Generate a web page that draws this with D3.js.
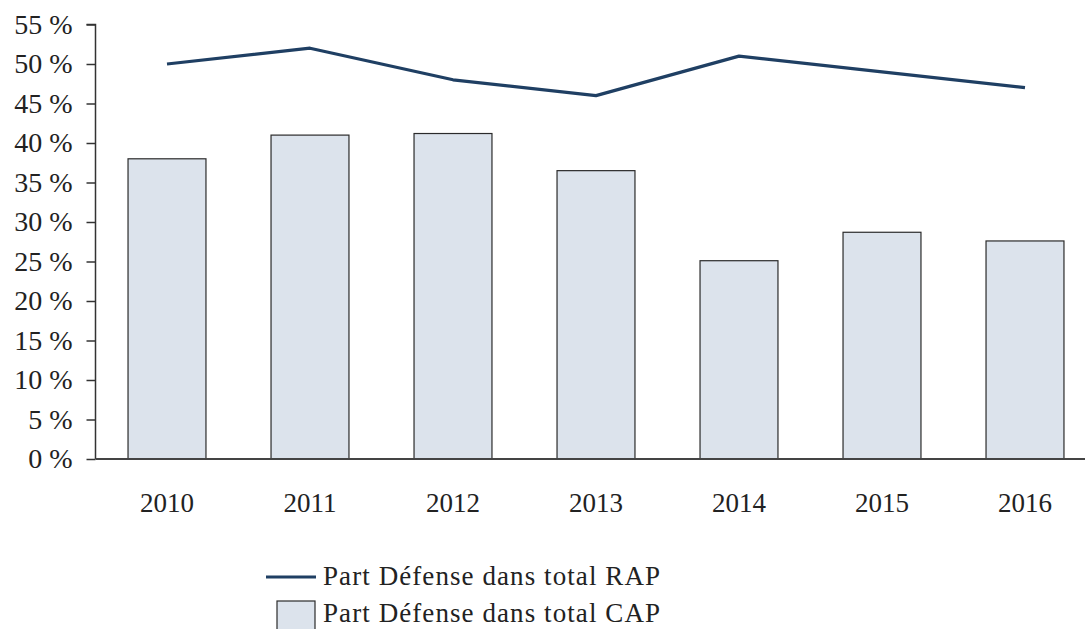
<!DOCTYPE html>
<html>
<head>
<meta charset="utf-8">
<script src="https://cdn.jsdelivr.net/npm/d3@7"></script>
<style>
  html, body { margin: 0; padding: 0; background: #fff; }
  svg { display: block; }
  text { font-family: "Liberation Serif", "DejaVu Serif", serif; fill: #222; }
</style>
</head>
<body>
<svg id="chart" width="1085" height="629"></svg>
<script>
// Années
const years = ["2010", "2011", "2012", "2013", "2014", "2015", "2016"];
// Part Défense dans total CAP (%) — barres
const capShare = [38, 41, 41.2, 36.5, 25.1, 28.7, 27.6];
// Part Défense dans total RAP (%) — courbe
const rapShare = [50, 52, 48, 46, 51, 49, 47];
// Graduations de l'axe vertical
const yTicks = [0, 5, 10, 15, 20, 25, 30, 35, 40, 45, 50, 55];
const legendLabels = ["Part Défense dans total RAP", "Part Défense dans total CAP"];

const svg = d3.select("#chart");
const plotLeft = 95.5, plotRight = 1096.5, plotTop = 24.5, plotBottom = 459;

const x = d3.scaleBand().domain(years).range([plotLeft, plotRight]).paddingInner(0.455).paddingOuter(0.2275);
const y = d3.scaleLinear().domain([0, 55]).range([plotBottom, plotTop]);

// Barres
svg.append("g").selectAll("rect").data(capShare).join("rect")
  .attr("x", (d, i) => x(years[i]))
  .attr("y", d => y(d))
  .attr("width", x.bandwidth())
  .attr("height", d => y(0) - y(d))
  .attr("fill", "#dce3ec")
  .attr("stroke", "#2b2b2b")
  .attr("stroke-width", 1.2);

// Courbe
const line = d3.line()
  .x((d, i) => x(years[i]) + x.bandwidth() / 2)
  .y(d => y(d));
svg.append("path").datum(rapShare)
  .attr("d", line)
  .attr("fill", "none")
  .attr("stroke", "#1f3f63")
  .attr("stroke-width", 3.2)
  .attr("stroke-linejoin", "round");

// Axe vertical
const yAxis = d3.axisLeft(y).tickValues(yTicks).tickSize(9).tickPadding(14)
  .tickFormat(d => d + " %");
const gy = svg.append("g").attr("transform", `translate(${plotLeft},0)`).call(yAxis);
gy.select(".domain").attr("stroke", "#333").attr("stroke-width", 1.5).attr("d", `M-9,${plotTop}H0V${plotBottom}`);
gy.selectAll(".tick line").attr("stroke", "#333").attr("stroke-width", 1.5);
gy.selectAll(".tick text").attr("font-size", 28).attr("font-family", null).attr("fill", "#222");

// Axe horizontal
const xAxis = d3.axisBottom(x).tickSize(0).tickPadding(34);
const gx = svg.append("g").attr("transform", `translate(0,${plotBottom})`).call(xAxis);
gx.select(".domain").attr("stroke", "#444").attr("stroke-width", 1.8).attr("d", `M${plotLeft},0H1085`);
gx.selectAll(".tick text").attr("font-size", 27).attr("font-family", null).attr("fill", "#222");

// Légende
const lg = svg.append("g");
lg.append("line").attr("x1", 266).attr("x2", 316).attr("y1", 577).attr("y2", 577)
  .attr("stroke", "#1f3f63").attr("stroke-width", 3.2);
lg.append("text").attr("x", 323).attr("y", 585).attr("font-size", 27)
  .attr("textLength", 337).attr("lengthAdjust", "spacing").text(legendLabels[0]);
lg.append("rect").attr("x", 277).attr("y", 601).attr("width", 38).attr("height", 40)
  .attr("fill", "#dce3ec").attr("stroke", "#2b2b2b").attr("stroke-width", 1.2);
lg.append("text").attr("x", 323).attr("y", 622).attr("font-size", 27)
  .attr("textLength", 337).attr("lengthAdjust", "spacing").text(legendLabels[1]);
</script>
</body>
</html>
